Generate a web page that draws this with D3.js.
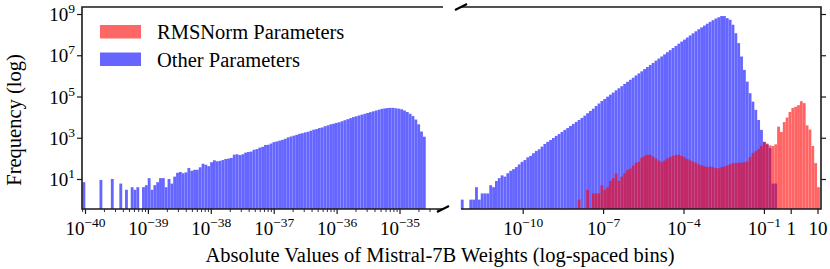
<!DOCTYPE html>
<html><head><meta charset="utf-8">
<script src="https://cdn.jsdelivr.net/npm/d3@7"></script>
<style>
body{margin:0;background:#fff}
text{font-family:"Liberation Serif","Times New Roman",serif;fill:#000}
</style>
</head><body>
<svg id="c" width="830" height="269"></svg>
<script>
// ---------------- DATA ----------------
// log-spaced histogram bins (log10 of bin start, log10 bin width)
const leftBinStart = -40.04, leftBinWidth = 0.0451;
const rightBinStart = -12.31, rightBinWidth = 0.10634;

// left panel (tiny magnitudes): Other Parameters counts
const leftOther = [7,0,0,0,0,0,9,0,0,0, 10,0,0,6,0,3,0,4,3,4, 0,4,5,11,3,5,7,11,11,4,
 10,6,13,20,22,19,21,34,25,28, 28,37,55,49,42,65,81,72,76,83, 93,98,105,151,158,145,158,190,204,214,
 263,282,331,363,447,457,525,617,661,724, 794,891,1047,1148,1259,1380,1549,1660,1820,1950,
 2190,2455,2630,2950,3160,3630,3980,4470,4790,5250, 5620,6310,7080,7940,8910,10000,10960,12020,13180,14450,
 15850,17380,19050,20890,22910,25120,26300,27540,28180,28180, 26920,25700,23990,20890,17780,14450,11220,7590,4470,2000,1120];

// right panel: Other Parameters counts
const rightOther = [1,0,0,1,1,4,1,2,2,2, 5,4,8,11,15,13,19,25,30,38,
 51,68,83,112,132,178,229,275,372,501, 631,776,977,1230,1510,1910,2400,2950,3720,4680,
 5890,7240,9120,11750,15490,19950,25700,34670,45710,60260,
 7.59e4,9.77e4,1.23e5,1.55e5,2.0e5,2.51e5,3.16e5,4.07e5,5.13e5,6.46e5,
 8.13e5,1.05e6,1.32e6,1.66e6,2.14e6,2.69e6,3.39e6,4.27e6,5.5e6,6.92e6,
 8.71e6,1.10e7,1.41e7,1.78e7,2.24e7,2.82e7,3.63e7,4.57e7,5.75e7,7.24e7,
 9.12e7,1.15e8,1.45e8,1.82e8,2.24e8,2.75e8,3.39e8,4.17e8,5.01e8,6.03e8,
 6.92e8,7.94e8,7.94e8,6.31e8,5.25e8,3.02e8,1.17e8,3.89e7,8.71e6,1.95e6,
 5.25e5,1.45e5,5.62e4,2.24e4,7240,2400,631,479,316,6,
 6,0,0,0,0,0,0,0,0,0, 0,0,0,0,0,0];

// right panel: RMSNorm Parameters counts
const rightRMSNorm = [0,0,0,0,0,0,0,0,0,0, 0,0,0,0,0,0,0,0,0,0, 0,0,0,0,0,0,0,0,0,0, 0,0,0,0,0,0,0,0,0,0,
 0,1,0,0,3,0,2,2,2,5, 3,4,8,11,19,8,13,19,27,32,
 44,62,68,107,132,151,148,120,98,78, 66,78,98,117,132,148,151,132,112,93,
 79,69,62,51,46,42,38,40,37,34, 33,37,40,46,52,58,60,62,62,65,
 69,115,178,224,288,398,631,525,427,398, 479,3470,1905,5750,9550,17780,27540,31620,38020,58880,
 47860,3980,2510,398,59,4];

const yTickExps = [1,3,5,7,9];
const leftTickExps = [-40,-39,-38,-37,-36,-35];
const rightTickValues = [1e-10,1e-7,1e-4,1e-1,1,10];
const rightTickLabels = [["10","−10"],["10","−7"],["10","−4"],["10","−1"],["1",""],["10",""]];
const seriesNames = ["RMSNorm Parameters","Other Parameters"];
const seriesColors = ["#ff0000","#0000ff"];

// ---------------- LAYOUT ----------------
const svg = d3.select("#c");
const yTop = 7, yBot = 209;
const L = {x0:82, x1:443}, R = {x0:461, x1:821};
const spineColor = "#1a1a1a";

const y = d3.scaleLog().domain([1e1,1e9]).range([179,14]);
const xL = d3.scaleLog().domain([1e-40,1e-35]).range([85,399.5]);
const xR = d3.scaleLog().domain([1e-10,10]).range([522.7,817.5]);

function bins(start,width,counts){
  return counts.map((c,i)=>({a:Math.pow(10,start+i*width), b:Math.pow(10,start+(i+1)*width), c}))
               .filter(d=>d.c>0);
}
function drawBars(x, data, color){
  const g = svg.append("g").attr("opacity",0.6);
  g.selectAll("rect").data(data).join("rect")
    .attr("x",d=>x(d.a)).attr("width",d=>x(d.b)-x(d.a))
    .attr("y",d=>y(d.c)).attr("height",d=>yBot-y(d.c))
    .attr("fill",color);
}
drawBars(xL, bins(leftBinStart,leftBinWidth,leftOther), seriesColors[1]);
drawBars(xR, bins(rightBinStart,rightBinWidth,rightOther), seriesColors[1]);
drawBars(xR, bins(rightBinStart,rightBinWidth,rightRMSNorm), seriesColors[0]);

// label helper
function texLabel(sel, base, sup){
  sel.text(null);
  sel.append("tspan").text(base);
  if(sup) sel.append("tspan").attr("dy",-8).attr("font-size",13.5).text(sup);
}

// ---- left y axis
const yAx = svg.append("g").attr("transform",`translate(${L.x0},0)`)
  .call(d3.axisLeft(y).tickValues(yTickExps.map(e=>Math.pow(10,e))).tickSize(5).tickPadding(0));
yAx.select(".domain").remove();
yAx.selectAll(".tick line").attr("stroke",spineColor).attr("stroke-width",1.2);
yAx.selectAll(".tick text").attr("font-size",19).attr("x",-7).attr("dy",null).attr("y",6.5)
  .attr("text-anchor","end").attr("font-family",null)
  .each(function(d,i){ texLabel(d3.select(this),"10",String(yTickExps[i])); });

// ---- right y axis (ticks only)
const yAxR = svg.append("g").attr("transform",`translate(${R.x1},0)`)
  .call(d3.axisRight(y).tickValues(yTickExps.map(e=>Math.pow(10,e))).tickSize(5).tickFormat(""));
yAxR.select(".domain").remove();
yAxR.selectAll(".tick line").attr("stroke",spineColor).attr("stroke-width",1.2);

// ---- left x axis: minor ticks
const minorL = [];
for(let e=-41;e<=-35;e++) for(let m=2;m<=9;m++){ const v=m*Math.pow(10,e); const px=xL(v); if(px>=L.x0&&px<=L.x1) minorL.push(v); }
const xmL = svg.append("g").attr("transform",`translate(0,${yBot})`)
  .call(d3.axisBottom(xL).tickValues(minorL).tickSize(3).tickFormat(""));
xmL.select(".domain").remove();
xmL.selectAll(".tick line").attr("stroke",spineColor).attr("stroke-width",0.9);

const xaL = svg.append("g").attr("transform",`translate(0,${yBot})`)
  .call(d3.axisBottom(xL).tickValues(leftTickExps.map(e=>Math.pow(10,e))).tickSize(5));
xaL.select(".domain").remove();
xaL.selectAll(".tick line").attr("stroke",spineColor).attr("stroke-width",1.2);
xaL.selectAll(".tick text").attr("font-size",19).attr("dy",null).attr("y",26).attr("font-family",null)
  .each(function(d,i){ texLabel(d3.select(this),"10",String(leftTickExps[i]).replace("-","−")); });

// ---- right x axis
const xaR = svg.append("g").attr("transform",`translate(0,${yBot})`)
  .call(d3.axisBottom(xR).tickValues(rightTickValues).tickSize(5));
xaR.select(".domain").remove();
xaR.selectAll(".tick line").attr("stroke",spineColor).attr("stroke-width",1.2);
xaR.selectAll(".tick text").attr("font-size",19).attr("dy",null).attr("y",26).attr("font-family",null)
  .each(function(d,i){ texLabel(d3.select(this),rightTickLabels[i][0],rightTickLabels[i][1]); });

// ---- spines
const sp = svg.append("g").attr("fill","none").attr("stroke",spineColor).attr("stroke-width",1.6);
sp.append("path").attr("d",`M${L.x1},${yTop}H${L.x0}V${yBot}H${L.x1}`);
sp.append("path").attr("d",`M${R.x0},${yTop}H${R.x1}V${yBot}H${R.x0}`);
// break marks
const bk = svg.append("g").attr("stroke","#000").attr("stroke-width",2);
bk.append("line").attr("x1",L.x1-6).attr("y1",yBot+3).attr("x2",L.x1+6).attr("y2",yBot-3);
bk.append("line").attr("x1",R.x0-6).attr("y1",yTop+3).attr("x2",R.x0+6).attr("y2",yTop-3);

// ---- legend
const lg = svg.append("g");
seriesNames.forEach((n,i)=>{
  const yy = 25 + i*27.5;
  lg.append("rect").attr("x",100).attr("y",yy).attr("width",41).attr("height",13.5)
    .attr("fill",seriesColors[i]).attr("opacity",0.6);
  lg.append("text").attr("x",157).attr("y",yy+14).attr("font-size",20.5).text(n);
});

// ---- axis labels
svg.append("text").attr("x",440).attr("y",262).attr("text-anchor","middle").attr("font-size",20.5)
  .text("Absolute Values of Mistral-7B Weights (log-spaced bins)");
svg.append("text").attr("transform","translate(21,120) rotate(-90)").attr("text-anchor","middle")
  .attr("font-size",20.5).text("Frequency (log)");
</script>
</body></html>
